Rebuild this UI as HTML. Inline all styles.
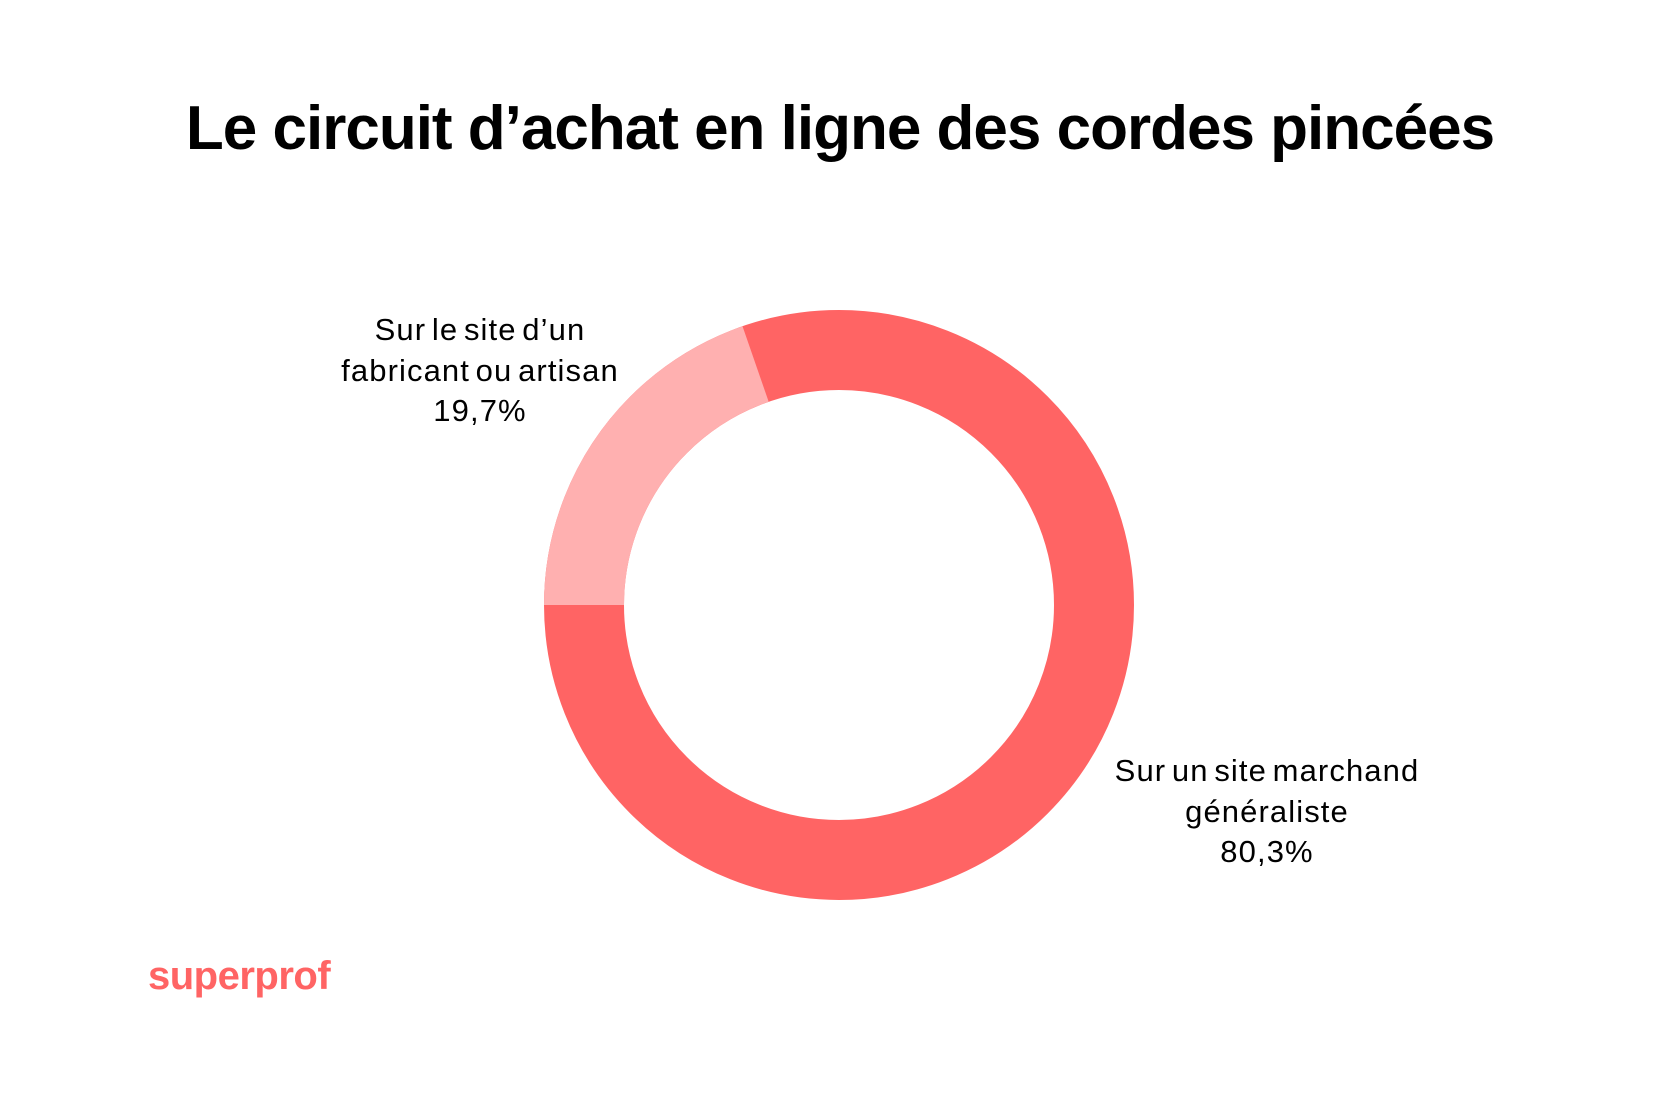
<!DOCTYPE html>
<html><head><meta charset="utf-8"><style>
body{margin:0;width:1680px;height:1118px;background:#fff;overflow:hidden;position:relative;font-family:"Liberation Sans",sans-serif;}
.t{position:absolute;left:0;width:1680px;text-align:center;top:93px;font-size:62px;font-weight:bold;color:#000;letter-spacing:-1px;}
.l{position:absolute;text-align:center;font-size:31px;line-height:40.7px;color:#000;letter-spacing:1.1px;word-spacing:-4px;}
.s{position:absolute;left:148px;top:954px;font-size:40px;font-weight:bold;color:#ff6464;letter-spacing:-0.5px;}
</style></head><body>
<div class="t">Le circuit d’achat en ligne des cordes pincées</div>
<svg width="1680" height="1118" style="position:absolute;left:0;top:0">
<circle cx="839" cy="605" r="255" fill="none" stroke="#ff6464" stroke-width="80"/>
<path d="M584 605 A255 255 0 0 1 755.6 364" fill="none" stroke="#ffb0b0" stroke-width="80"/>
</svg>
<div class="l" style="left:280px;width:400px;top:310px">Sur le site d’un<br>fabricant ou artisan<br>19,7%</div>
<div class="l" style="left:1067px;width:400px;top:751px">Sur un site marchand<br>généraliste<br>80,3%</div>
<div class="s">superprof</div>
</body></html>
